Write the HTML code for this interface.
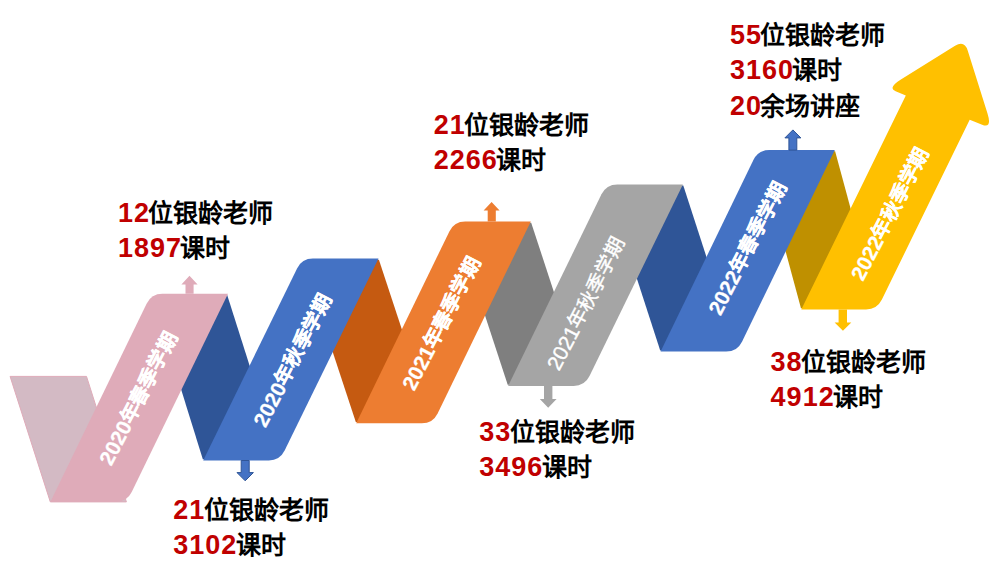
<!DOCTYPE html>
<html lang="zh-CN"><head><meta charset="utf-8">
<style>
html,body{margin:0;padding:0;background:#fff;width:1000px;height:571px;overflow:hidden}
body{position:relative;font-family:"Liberation Sans",sans-serif}
svg{position:absolute;left:0;top:0}
svg text{font-family:"Liberation Sans",sans-serif}
.lab{position:absolute;font-weight:700;font-size:25px;line-height:35px;color:#000;white-space:nowrap;margin-top:-7px}
.n{color:#C00000;font-size:27px;letter-spacing:1px;margin-right:-1.5px}
</style></head><body>
<svg width="1000" height="571" viewBox="0 0 1000 571">
<path d="M10.1,376.4 L86.5,376.4 L126.4,501.9 L50.3,501.9Z" fill="#D3BAC4" stroke="#DFABB9" stroke-width="1"/>
<path d="M176.4,295 L227.18,295 L273.44,440.5 L254.8,459.3 L202.83,459.3 L157.62,313.8Z" fill="#2F5597"/>
<path d="M326.9,259.8 L378.9,259.8 L426.28,403.54 L407.8,422.1 L355.8,422.1 L308.42,278.36Z" fill="#C55A11"/>
<path d="M479.2,222.7 L531.19,222.7 L578.23,366.26 L559.7,384.8 L507.71,384.8 L460.67,241.24Z" fill="#7F7F7F"/>
<path d="M631.3,185.6 L683.29,185.6 L730.68,331.54 L712.2,350.4 L660.21,350.4 L612.82,204.46Z" fill="#2F5597"/>
<path d="M783.2,151.3 L835.12,151.3 L872.73,290.28 L852.9,308.2 L800.98,308.2 L763.37,169.22Z" fill="#BF9000"/>
<path d="M146.59,303.69 Q151.4,293.8 162.4,293.8 L228,293.8 L131.71,492.01 Q126.9,501.9 115.9,501.9 L50.3,501.9Z" fill="#DFABB9"/>
<path d="M297.07,268.48 Q301.9,258.6 312.9,258.6 L378.5,258.6 L284.63,450.62 Q279.8,460.5 268.8,460.5 L203.2,460.5Z" fill="#4472C4"/>
<path d="M449.39,231.39 Q454.2,221.5 465.2,221.5 L530.8,221.5 L437.61,413.41 Q432.8,423.3 421.8,423.3 L356.2,423.3Z" fill="#ED7D31"/>
<path d="M601.48,194.29 Q606.3,184.4 617.3,184.4 L682.9,184.4 L589.52,376.11 Q584.7,386 573.7,386 L508.1,386Z" fill="#A5A5A5"/>
<path d="M753.4,160 Q758.2,150.1 769.2,150.1 L834.8,150.1 L742,341.7 Q737.2,351.6 726.2,351.6 L660.6,351.6Z" fill="#4472C4"/>
<path d="M801.3,309.4 L905.8,95.5 L895.62,91.32 Q887.3,87.9 900.89,79.46 L955.06,45.8 Q964.4,40 967.7,50.49 L987.5,113.44 Q992.3,128.7 982.13,124.69 L969.7,119.8 L881.9,299.52 Q877.07,309.4 866.07,309.4Z" fill="#FFC000"/>
<path d="M185.5,293.8 L185.5,284.6 L181.4,284.6 L189.5,275.8 L197.6,284.6 L193.6,284.6 L193.6,293.8Z" fill="#DFABB9"/>
<path d="M241.2,460.5 L241.2,472.6 L237.0,472.6 L245.2,480.8 L253.4,472.6 L249.2,472.6 L249.2,460.5Z" fill="#4472C4" stroke="#2F5597" stroke-width="1"/>
<path d="M487.7,221.6 L487.7,210.6 L483.6,210.6 L491.6,201.9 L499.6,210.6 L495.8,210.6 L495.8,221.6Z" fill="#ED7D31"/>
<path d="M544.0,386.0 L544.0,399.0 L539.8,399.0 L548.2,407.8 L556.6,399.0 L552.4,399.0 L552.4,386.0Z" fill="#A5A5A5"/>
<path d="M788.9,150.1 L788.9,137.9 L784.9,137.9 L792.9,129.9 L800.9,137.9 L796.8,137.9 L796.8,150.1Z" fill="#4472C4" stroke="#2F5597" stroke-width="1"/>
<path d="M838.6,309.4 L838.6,322.4 L834.6,322.4 L842.95,330.8 L851.3,322.4 L847.0,322.4 L847.0,309.4Z" fill="#FFC000"/>
<text x="138.0" y="398.2" transform="rotate(-62.5 138.0 398.2)" text-anchor="middle" dominant-baseline="central" font-size="19.8" font-weight="700" fill="#fff" stroke="#fff" stroke-width="0.3"><tspan stroke="#fff" stroke-width="0.25" font-size="20.8">2020</tspan>年春季学期</text>
<text x="292.3" y="359.9" transform="rotate(-62.5 292.3 359.9)" text-anchor="middle" dominant-baseline="central" font-size="19.8" font-weight="700" fill="#fff" stroke="#fff" stroke-width="0.3"><tspan stroke="#fff" stroke-width="0.25" font-size="20.8">2020</tspan>年秋季学期</text>
<text x="440.9" y="323.2" transform="rotate(-62.5 440.9 323.2)" text-anchor="middle" dominant-baseline="central" font-size="19.8" font-weight="700" fill="#fff" stroke="#fff" stroke-width="0.3"><tspan stroke="#fff" stroke-width="0.25" font-size="20.8">2021</tspan>年春季学期</text>
<text x="585.7" y="303.3" transform="rotate(-62.5 585.7 303.3)" text-anchor="middle" dominant-baseline="central" font-size="19.8" font-weight="400" fill="#fff" stroke="#fff" stroke-width="0.4"><tspan font-size="20.8">2021</tspan>年秋季学期</text>
<text x="747.1" y="247.9" transform="rotate(-62.5 747.1 247.9)" text-anchor="middle" dominant-baseline="central" font-size="19.8" font-weight="700" fill="#fff" stroke="#fff" stroke-width="0.3"><tspan stroke="#fff" stroke-width="0.25" font-size="20.8">2022</tspan>年春季学期</text>
<text x="889.6" y="213.5" transform="rotate(-62.5 889.6 213.5)" text-anchor="middle" dominant-baseline="central" font-size="19.8" font-weight="700" fill="#fff" stroke="#fff" stroke-width="0.3"><tspan stroke="#fff" stroke-width="0.25" font-size="20.8">2022</tspan>年秋季学期</text>
</svg>
<div class="lab" style="left:117.9px;top:202.6px"><div class="ln"><span class="n">12</span>位银龄老师</div><div class="ln"><span class="n">1897</span>课时</div></div>
<div class="lab" style="left:173.3px;top:499.8px"><div class="ln"><span class="n">21</span>位银龄老师</div><div class="ln"><span class="n">3102</span>课时</div></div>
<div class="lab" style="left:433.7px;top:115.4px"><div class="ln"><span class="n">21</span>位银龄老师</div><div class="ln"><span class="n">2266</span>课时</div></div>
<div class="lab" style="left:479.3px;top:421.7px"><div class="ln"><span class="n">33</span>位银龄老师</div><div class="ln"><span class="n">3496</span>课时</div></div>
<div class="lab" style="left:729.9px;top:24.8px"><div class="ln"><span class="n">55</span>位银龄老师</div><div class="ln"><span class="n">3160</span>课时</div><div class="ln" style="margin-top:1px"><span class="n">20</span>余场讲座</div></div>
<div class="lab" style="left:770.6px;top:351.6px"><div class="ln"><span class="n">38</span>位银龄老师</div><div class="ln"><span class="n">4912</span>课时</div></div>
</body></html>
